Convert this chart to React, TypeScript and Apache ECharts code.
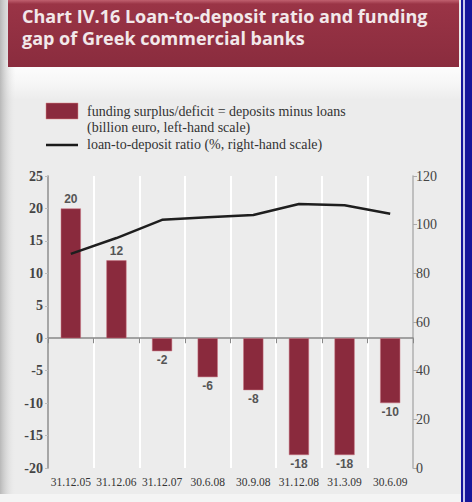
import React, { useEffect, useRef } from "react";
import * as echarts from "echarts";

const categories = ["31.12.05", "31.12.06", "31.12.07", "30.6.08", "30.9.08", "31.12.08", "31.3.09", "30.6.09"];
const fundingGap = [20, 12, -2, -6, -8, -18, -18, -10];
const loanToDeposit = [88, 94.5, 102, 103, 104, 108.5, 108, 104.5];
const titleLines = ["Chart IV.16 Loan-to-deposit ratio and funding", "gap of Greek commercial banks"];
const legendBar = ["funding surplus/deficit = deposits minus loans", "(billion euro, left-hand scale)"];
const legendLine = "loan-to-deposit ratio (%, right-hand scale)";

const BAR = "#8a2a3d";
const SERIF = "'Liberation Serif', 'DejaVu Serif', serif";
const SANS = "'Liberation Sans', Arial, sans-serif";

export default function App() {
  const ref = useRef<HTMLDivElement>(null);
  useEffect(() => {
    document.body.style.margin = "0";
    const chart = echarts.init(ref.current!, undefined, { renderer: "svg" });
    const titleFont = "bold 18px 'Open Sans', 'DejaVu Sans', sans-serif";
    chart.setOption({
      animation: false,
      backgroundColor: "#ececec",
      graphic: [
        { type: "rect", z: -10, shape: { x: 0, y: 60, width: 472, height: 40 },
          style: { fill: new echarts.graphic.LinearGradient(0, 0, 0, 1, [{ offset: 0, color: "#ffffff" }, { offset: 0.6, color: "#f6f6f6" }, { offset: 1, color: "#ececec" }]) } },
        { type: "rect", z: -9, shape: { x: 0, y: 0, width: 16, height: 502 },
          style: { fill: new echarts.graphic.LinearGradient(0, 0, 1, 0, [{ offset: 0, color: "#b8b8b8" }, { offset: 1, color: "rgba(236,236,236,0)" }]) } },
        { type: "rect", z: -8, shape: { x: 0, y: 494, width: 472, height: 8 }, style: { fill: "#f4f4f4" } },
        { type: "rect", shape: { x: 8, y: 0, width: 451, height: 67 },
          style: { fill: new echarts.graphic.LinearGradient(0, 0, 0, 1, [{ offset: 0, color: "#c0606f" }, { offset: 0.06, color: "#9a3446" }, { offset: 1, color: "#8a2c3e" }]) } },
        { type: "text", x: 22, y: 16, style: { text: titleLines[0], fill: "#f2e8ea", font: titleFont, lineHeight: 20, verticalAlign: "middle" } },
        { type: "text", x: 22, y: 38, style: { text: titleLines[1], fill: "#f2e8ea", font: titleFont, lineHeight: 20, verticalAlign: "middle" } },
        { type: "rect", shape: { x: 461, y: 0, width: 11, height: 502 }, style: { fill: "#16169a" } },
        { type: "rect", shape: { x: 463, y: 0, width: 2, height: 502 }, style: { fill: "#c8c8ee" } },
        { type: "rect", shape: { x: 46, y: 103, width: 32, height: 16 }, style: { fill: BAR, stroke: "#d88", lineWidth: 0.5 } },
        { type: "line", shape: { x1: 46, y1: 145, x2: 78, y2: 145 }, style: { stroke: "#1a1a1a", lineWidth: 2.5 } },
        { type: "text", x: 87, y: 111, style: { text: legendBar[0], fill: "#333", font: `14px ${SERIF}`, lineHeight: 16, verticalAlign: "middle" } },
        { type: "text", x: 87, y: 127, style: { text: legendBar[1], fill: "#333", font: `14px ${SERIF}`, lineHeight: 16, verticalAlign: "middle" } },
        { type: "text", x: 87, y: 144, style: { text: legendLine, fill: "#333", font: `14px ${SERIF}`, lineHeight: 16, verticalAlign: "middle" } },
      ],
      grid: { left: 48, right: 59, top: 176, bottom: 34, containLabel: false },
      xAxis: {
        type: "category",
        data: categories,
        boundaryGap: true,
        axisLine: { lineStyle: { color: "#888", width: 1.5 } },
        axisTick: { show: true, interval: 0, length: 5, lineStyle: { color: "#888" } },
        axisLabel: { interval: 0, color: "#333", fontFamily: SERIF, fontSize: 11.5, margin: 8 },
        splitLine: { show: true, interval: 0, lineStyle: { color: "#ffffff", width: 2 } },
      },
      yAxis: [
        {
          type: "value", min: -20, max: 25, interval: 5,
          axisLine: { show: true, lineStyle: { color: "#888", width: 1.5 } },
          axisTick: { show: true, length: 3, lineStyle: { color: "#bbb" } },
          axisLabel: { color: "#444", fontFamily: SERIF, fontSize: 14, fontWeight: "bold", margin: 5 },
          splitLine: { show: false },
        },
        {
          type: "value", min: 0, max: 120, interval: 20, position: "right",
          axisLine: { show: true, lineStyle: { color: "#aaa", width: 1.5 } },
          axisTick: { show: true, length: 4, lineStyle: { color: "#aaa" } },
          axisLabel: { color: "#444", fontFamily: SERIF, fontSize: 14, margin: 3 },
          splitLine: { show: false },
        },
      ],
      series: [
        {
          type: "bar", yAxisIndex: 0, data: fundingGap, barWidth: "44%",
          itemStyle: { color: BAR, borderColor: "#c9707e", borderWidth: 0.5 },
          label: { show: true, position: "outside", color: "#555", fontFamily: SANS, fontWeight: "bold", fontSize: 12, distance: 3 },
        },
        {
          type: "line", yAxisIndex: 1, data: loanToDeposit, symbol: "none",
          lineStyle: { color: "#1e1e1e", width: 2.5 }, z: 5,
        },
      ],
    });
    return () => chart.dispose();
  }, []);
  return <div ref={ref} style={{ position: "fixed", left: 0, top: 0, width: 472, height: 502 }} />;
}
